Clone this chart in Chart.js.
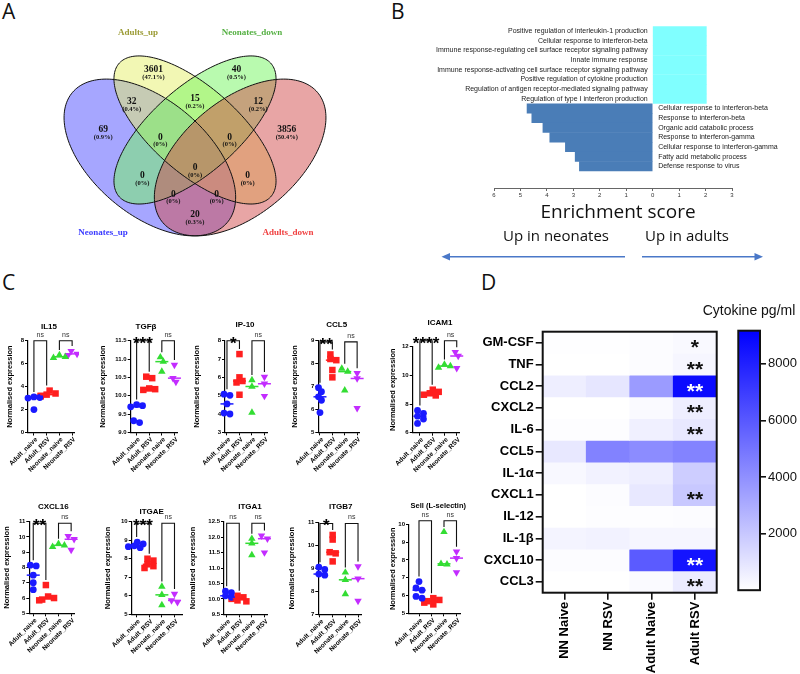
<!DOCTYPE html>
<html><head><meta charset="utf-8">
<script src="https://cdn.jsdelivr.net/npm/chart.js@4.4.1/dist/chart.umd.min.js"></script>
<style>
html,body{margin:0;padding:0;background:#fff;}
#root{position:relative;width:800px;height:674px;overflow:hidden;background:#fff;}
canvas{position:absolute;}
.pl{position:absolute;font-family:"Open Sans",sans-serif;font-size:21px;line-height:1;color:#111;}
</style></head><body><div id="root">
<div class="pl" style="left:2px;top:1px">A</div>
<div class="pl" style="left:391px;top:1px">B</div>
<div class="pl" style="left:2px;top:272px">C</div>
<div class="pl" style="left:481px;top:272px">D</div>
</div>
<script>
// ---------------- DATA ----------------
// Panel A: Venn
const vennSetNames = ['Neonates_up','Adults_up','Neonates_down','Adults_down'];
const vennCounts = [3601, 40, 32, 15, 12, 69, 3856, 0, 0, 0, 0, 0, 0, 0, 20];

// Panel B: enrichment
const goTerms = [
 'Positive regulation of interleukin-1 production',
 'Cellular response to interferon-beta',
 'Immune response-regulating cell surface receptor signaling pathway',
 'Innate immune response',
 'Immune response-activating cell surface receptor signaling pathway',
 'Positive regulation of cytokine production',
 'Regulation of antigen receptor-mediated signaling pathway',
 'Regulation of type I interferon production',
 'Cellular response to interferon-beta',
 'Response to interferon-beta',
 'Organic acid catabolic process',
 'Response to interferon-gamma',
 'Cellular response to interferon-gamma',
 'Fatty acid metabolic process',
 'Defense response to virus'];
const enrichScore = [2.03,2.03,2.03,2.03,2.03,2.03,2.03,2.03,-4.75,-4.57,-4.15,-3.89,-3.30,-2.93,-2.77];

// Panel C: expression
const cGroups = ['Adult_naive','Adult_RSV','Neonate_naive','Neonate_RSV'];
const IL15   = [[3.1,3.05,3.0,2.0],[3.65,3.4,3.3,3.2,3.15],[6.75,6.6,6.5],[7.1,6.85,6.75]];
const TGFB   = [[9.76,9.73,9.7,9.32,9.27],[10.52,10.48,10.2,10.18,10.16],[11.05,10.93,10.66],[10.84,10.48,10.38]];
const IP10   = [[5.08,5.02,4.55,4.05,4.0],[7.27,6.0,5.8,5.72,5.05],[5.85,5.5,4.08],[6.02,5.65,4.98]];
const CCL5e  = [[6.95,6.77,6.55,6.4,5.86],[8.4,8.2,8.15,7.72,7.4],[7.78,7.65,6.83],[7.58,7.35,6.05]];
const ICAM1  = [[7.55,7.35,7.15,6.95,6.65],[9.0,8.85,8.75,8.65,8.6],[10.75,10.65,10.55],[11.62,11.35,10.5]];
const CXCL16 = [[8.15,8.1,7.5,7.0,6.55],[6.85,6.1,6.0,5.9,5.85],[9.55,9.45,9.35],[10.05,9.85,9.15]];
const ITGAE  = [[8.9,8.8,8.7,8.65,8.6],[8.0,7.9,7.7,7.6,7.5],[6.5,6.05,5.5],[6.1,5.75,5.65]];
const ITGA1  = [[10.25,10.2,10.1,10.05,10.0],[10.1,10.05,10.0,9.95,9.92],[11.95,11.8,11.42],[12.05,11.95,11.5]];
const ITGB7  = [[9.05,8.95,8.75,8.7,8.68],[10.45,10.25,9.7,9.65,9.3],[8.82,8.5,7.88],[9.08,8.55,7.58]];
const SELL   = [[6.78,6.42,6.3,5.95,5.85],[5.85,5.75,5.68,5.6,5.5],[9.57,7.78,7.75],[8.46,8.1,7.3]];
const cSig = {IL15:['ns','ns'],TGFB:['***','ns'],IP10:['*','ns'],CCL5:['**','ns'],ICAM1:['****','ns'],
  CXCL16:['**','ns'],ITGAE:['***','ns'],ITGA1:['ns','ns'],ITGB7:['*','ns'],SELL:['ns','ns']};

// Panel D: cytokines (pg/ml)
const cytokines = ['GM-CSF','TNF','CCL2','CXCL2','IL-6','CCL5','IL-1α','CXCL1','IL-12','IL-1β','CXCL10','CCL3'];
const hmGroups = ['NN Naive','NN RSV','Adult Naive','Adult RSV'];
const hmNNNaive    = [20, 10, 610, 10, 70, 830, 250, 10, 10, 400, 110, 10];
const hmNNRSV      = [20, 10, 900, 10, 70, 4500, 470, 110, 70, 470, 110, 10];
const hmAdultNaive = [110, 110, 3600, 180, 540, 4150, 610, 830, 70, 320, 5900, 180];
const hmAdultRSV   = [220, 320, 8800, 610, 830, 4450, 1800, 1980, 110, 320, 8450, 720];
const hmStars      = ['*','**','**','**','**','','','**','','','**','**'];
const colorMax = 9170;
const colorTicks = [2000,4000,6000,8000];

// ---------------- SETUP ----------------
Chart.defaults.font.family = '"Liberation Sans", Arial, sans-serif';
Chart.defaults.color = '#000';
const root = document.getElementById('root');
function mkCanvas(l,t,w,h){const c=document.createElement('canvas');c.width=Math.round(w);c.height=Math.round(h);c.style.left=l+'px';c.style.top=t+'px';c.style.width=Math.round(w)+'px';c.style.height=Math.round(h)+'px';root.appendChild(c);return c;}
const baseOpts = {responsive:false, animation:false, events:[], devicePixelRatio:1};
const noPlug = {legend:{display:false}, tooltip:{enabled:false}, title:{display:false}};

// ---------------- PANEL A ----------------
(function(){
 const W=395,H=275, cx0=195, sx=301, sy=275, vTop=0.839, pyTop=56;
 const xmin=0.5-cx0/sx, xmax=0.5+(W-cx0)/sx, ymax=vTop+pyTop/sy, ymin=vTop-(H-pyTop)/sy;
 const vennPos=[[0.362,0.788],[0.638,0.788],[0.29,0.672],[0.5,0.683],[0.71,0.672],[0.195,0.57],[0.805,0.57],
   [0.385,0.544],[0.615,0.544],[0.5,0.432],[0.325,0.403],[0.675,0.403],[0.428,0.337],[0.572,0.337],[0.5,0.261]];
 const ell=[
  {cx:0.35,cy:0.47,a:0.35,b:0.2,r:-Math.PI/4,fill:'rgba(60,60,255,0.46)'},
  {cx:0.5,cy:0.57,a:0.35,b:0.15,r:-Math.PI/4,fill:'rgba(230,240,105,0.5)'},
  {cx:0.5,cy:0.57,a:0.35,b:0.15,r:Math.PI/4,fill:'rgba(115,245,95,0.5)'},
  {cx:0.65,cy:0.47,a:0.35,b:0.2,r:Math.PI/4,fill:'rgba(210,75,75,0.5)'}];
 const setLab=[{t:vennSetNames[0],u:0.194,v:0.195,c:'#3c3cff'},{t:vennSetNames[1],u:0.311,v:0.923,c:'#9b9b35'},
   {t:vennSetNames[2],u:0.689,v:0.923,c:'#55b043'},{t:vennSetNames[3],u:0.809,v:0.195,c:'#f04040'}];
 const total=vennCounts.reduce((a,b)=>a+b,0);
 function path(ctx,xs,ys,e){ctx.beginPath();for(let k=0;k<=180;k++){const t=k/180*2*Math.PI,ca=Math.cos(e.r),sa=Math.sin(e.r);
   const u=e.cx+e.a*Math.cos(t)*ca-e.b*Math.sin(t)*sa, v=e.cy+e.a*Math.cos(t)*sa+e.b*Math.sin(t)*ca;
   const px=xs.getPixelForValue(u),py=ys.getPixelForValue(v); k?ctx.lineTo(px,py):ctx.moveTo(px,py);}ctx.closePath();}
 const plug={id:'venn',afterDatasetsDraw(chart){const ctx=chart.ctx,xs=chart.scales.x,ys=chart.scales.y;ctx.save();
   ell.forEach(e=>{path(ctx,xs,ys,e);ctx.fillStyle=e.fill;ctx.fill();});
   ell.forEach(e=>{path(ctx,xs,ys,e);ctx.strokeStyle='#111';ctx.lineWidth=1;ctx.stroke();});
   ctx.textAlign='center';ctx.textBaseline='middle';ctx.fillStyle='#111';
   vennCounts.forEach((c,i)=>{const x=xs.getPixelForValue(vennPos[i][0]),y=ys.getPixelForValue(vennPos[i][1]);
     ctx.font='bold 9.5px "Liberation Serif", serif';ctx.fillText(String(c),x,y);
     ctx.font='bold 6.5px "Liberation Serif", serif';ctx.fillText(c===0?'(0%)':'('+(c/total*100).toFixed(1)+'%)',x,y+7);});
   setLab.forEach(s=>{ctx.font='bold 9px "Liberation Serif", serif';ctx.fillStyle=s.c;ctx.fillText(s.t,xs.getPixelForValue(s.u),ys.getPixelForValue(s.v));});
   ctx.restore();}};
 new Chart(mkCanvas(0,0,W,H),{type:'scatter',data:{datasets:[{data:vennPos.map(p=>({x:p[0],y:p[1]})),pointRadius:0}]},
  options:Object.assign({},baseOpts,{layout:{padding:0},plugins:noPlug,
   scales:{x:{display:false,min:xmin,max:xmax},y:{display:false,min:ymin,max:ymax}}}),plugins:[plug]});
})();

// ---------------- PANEL B ----------------
(function(){
 const L=400,T=0,W=400,H=270;
 const plug={id:'goLabels',afterDatasetsDraw(chart){const ctx=chart.ctx,xs=chart.scales.x,ys=chart.scales.y,x0=xs.getPixelForValue(0);
   ctx.save();ctx.font='7px "Liberation Sans", Arial';ctx.fillStyle='#222';ctx.textBaseline='middle';
   goTerms.forEach((t,i)=>{const y=ys.getPixelForValue(i);if(enrichScore[i]>0){ctx.textAlign='right';ctx.fillText(t,x0-5,y);}else{ctx.textAlign='left';ctx.fillText(t,x0+5.5,y);}});
   ctx.restore();},
  afterDraw(chart){const ctx=chart.ctx;ctx.save();ctx.fillStyle='#111';ctx.textAlign='center';ctx.textBaseline='middle';
   ctx.font='19px "Open Sans", sans-serif';ctx.fillText('Enrichment score',218,213);
   ctx.font='15px "Open Sans", sans-serif';ctx.fillText('Up in neonates',156,237);ctx.fillText('Up in adults',287,237);
   const ay=256.7;ctx.strokeStyle='#4a78c8';ctx.fillStyle='#4a78c8';ctx.lineWidth=1.6;
   ctx.beginPath();ctx.moveTo(225,ay);ctx.lineTo(49,ay);ctx.stroke();
   ctx.beginPath();ctx.moveTo(41.5,ay);ctx.lineTo(50,ay-3.8);ctx.lineTo(50,ay+3.8);ctx.closePath();ctx.fill();
   ctx.beginPath();ctx.moveTo(242,ay);ctx.lineTo(355,ay);ctx.stroke();
   ctx.beginPath();ctx.moveTo(363,ay);ctx.lineTo(354.5,ay-3.8);ctx.lineTo(354.5,ay+3.8);ctx.closePath();ctx.fill();
   ctx.restore();}};
 new Chart(mkCanvas(L,T,W,H),{type:'bar',
  data:{datasets:[{data:enrichScore.map((v,i)=>({x:v,y:i})),backgroundColor:enrichScore.map(v=>v>0?'#80ffff':'#4a7db7'),barThickness:9.4,borderWidth:0}]},
  options:Object.assign({},baseOpts,{indexAxis:'y',layout:{padding:{top:16.87,left:94,right:68,bottom:0}},plugins:noPlug,
   scales:{
    x:{type:'linear',min:-6,max:3,ticks:{stepSize:1,font:{size:6},color:'#333',padding:1,callback:v=>String(Math.abs(v))},
      grid:{drawOnChartArea:false,drawTicks:true,tickLength:3,color:'#666'},border:{display:true,color:'#666',width:1},
      afterFit:s=>{s.height=82;}},
    y:{type:'linear',min:-0.5,max:15.26,reverse:true,display:false}}}),plugins:[plug]});
})();

// ---------------- PANEL C ----------------
const cColors=['#1a1aff','#ff1f1f','#33dd33','#c32cff'];
const cStyles=['circle','rect','triangle','triangle'];
const cRadius=[3.4,4.6,4.3,4.3];
const cPlots=[
 {title:'IL15',data:IL15,sig:cSig.IL15,bar:8,ymin:0,ymax:8,step:2,dec:0,lx:10,ax:28,rx:75,c0:34,c3:72.7,top:340.7,bot:432.5,tx:49,ty:327,row:0},
 {title:'TGFβ',data:TGFB,sig:cSig.TGFB,bar:11.5,ymin:9,ymax:11.5,step:0.5,dec:1,lx:103,ax:130.7,rx:178,c0:136.7,c3:175,top:340.7,bot:432.5,tx:146,ty:327,row:0},
 {title:'IP-10',data:IP10,sig:cSig.IP10,bar:8,ymin:3,ymax:8,step:1,dec:0,lx:197,ax:225,rx:268,c0:227,c3:265,top:340.7,bot:432.3,tx:245,ty:325,row:0},
 {title:'CCL5',data:CCL5e,sig:cSig.CCL5,bar:8.95,ymin:5,ymax:9,step:1,dec:0,lx:295,ax:318.3,rx:360,c0:320,c3:357.7,top:340.7,bot:432.3,tx:336.7,ty:325,row:0},
 {title:'ICAM1',data:ICAM1,sig:cSig.ICAM1,bar:12.42,ymin:6,ymax:12,step:2,dec:0,lx:393,ax:412.7,rx:460,c0:420,c3:457.3,top:346.7,bot:432.7,tx:440,ty:323,row:0},
 {title:'CXCL16',data:CXCL16,sig:cSig.CXCL16,bar:10.9,ymin:5,ymax:11,step:1,dec:0,lx:7,ax:29.3,rx:75,c0:33.3,c3:71.7,top:521.7,bot:613.3,tx:53.3,ty:506.7,row:1},
 {title:'ITGAE',data:ITGAE,sig:cSig.ITGAE,bar:9.92,ymin:5,ymax:10,step:1,dec:0,lx:108,ax:131.7,rx:183,c0:136.7,c3:175,top:521.7,bot:614.3,tx:151.7,ty:511.7,row:1},
 {title:'ITGA1',data:ITGA1,sig:cSig.ITGA1,bar:12.45,ymin:9.5,ymax:12.5,step:0.5,dec:1,lx:193,ax:224,rx:268,c0:226.7,c3:265,top:521.7,bot:614.3,tx:250,ty:506.7,row:1},
 {title:'ITGB7',data:ITGB7,sig:cSig.ITGB7,bar:10.95,ymin:7,ymax:11,step:1,dec:0,lx:292,ax:318.3,rx:361.7,c0:320,c3:358.3,top:522.3,bot:614.3,tx:340.7,ty:506.7,row:1},
 {title:'Sell (L-selectin)',data:SELL,sig:cSig.SELL,bar:10.2,ymin:5,ymax:10,step:1,dec:0,lx:393,ax:409,rx:460,c0:419,c3:456.5,top:524.3,bot:613.3,tx:438.3,ty:505.7,row:1,tfs:7.5,extra:10}];
const rowBox=[{t:305,b:482},{t:488,b:674}];

function swarm(vals, ppu, d){ // deterministic beeswarm offsets (px)
 const idx=vals.map((v,i)=>i).sort((a,b)=>vals[b]-vals[a]);
 const placed=[];const off=new Array(vals.length).fill(0);const s=d*0.5;
 idx.forEach(i=>{const y=vals[i]*ppu;let best=0;
  for(let k=0;k<7;k++){const c=k===0?0:(k%2?1:-1)*Math.ceil(k/2)*s;best=c;
   if(!placed.some(p=>Math.hypot(c-p.x,y-p.y)<d*0.75)){break;}}
  placed.push({x:best,y:y});off[i]=best;});
 const comp=new Array(vals.length).fill(-1);let nc=0;
 idx.forEach((i,k)=>{if(k>0 && Math.abs(vals[idx[k-1]]-vals[i])*ppu<d){comp[i]=comp[idx[k-1]];}else{comp[i]=nc++;}});
 for(let c=0;c<nc;c++){const m=off.filter((o,i)=>comp[i]===c);const mean=m.reduce((a,b)=>a+b,0)/m.length;off.forEach((o,i)=>{if(comp[i]===c)off[i]=o-mean;});}
 return off;
}

cPlots.forEach(p=>{
 const rb=rowBox[p.row];const ex=p.extra||0;const L=p.lx-5,T=rb.t,W=p.rx+4+ex-L,H=rb.b-T;
 const stepPx=(p.c3-p.c0)/3, ppu=(p.bot-p.top)/(p.ymax-p.ymin);
 const xmin=-(p.c0-p.ax)/stepPx, xmax=3+(p.rx-p.c3)/stepPx;
 const datasets=p.data.map((vals,gi)=>{const off=swarm(vals,ppu,6);
  return {data:vals.map((v,i)=>({x:gi+off[i]/stepPx,y:v})),pointStyle:cStyles[gi],rotation:gi===3?180:0,
   backgroundColor:cColors[gi],borderColor:cColors[gi],borderWidth:0,pointRadius:cRadius[gi],clip:false};});
 const plug={id:'cdeco',afterDatasetsDraw(chart){const ctx=chart.ctx,xs=chart.scales.x,ys=chart.scales.y,ca=chart.chartArea;ctx.save();
   p.data.forEach((vals,gi)=>{const s=[...vals].sort((a,b)=>a-b),n=s.length,med=n%2?s[(n-1)/2]:(s[n/2-1]+s[n/2])/2;
     const x=xs.getPixelForValue(gi),y=ys.getPixelForValue(med);ctx.strokeStyle=cColors[gi];ctx.lineWidth=1.5;
     ctx.beginPath();ctx.moveTo(x-6.5,y);ctx.lineTo(x+6.5,y);ctx.stroke();});
   [[0,1],[2,3]].forEach((pr,bi)=>{const yb=ys.getPixelForValue(p.bar),x1=xs.getPixelForValue(pr[0]),x2=xs.getPixelForValue(pr[1]);
     const l1=Math.max(yb+2,ys.getPixelForValue(Math.max(...p.data[pr[0]]))-5),l2=Math.max(yb+2,ys.getPixelForValue(Math.max(...p.data[pr[1]]))-5);
     ctx.strokeStyle='#111';ctx.lineWidth=1.1;ctx.beginPath();ctx.moveTo(x1,l1);ctx.lineTo(x1,yb);ctx.lineTo(x2,yb);ctx.lineTo(x2,l2);ctx.stroke();
     const s=p.sig[bi];ctx.textAlign='center';ctx.textBaseline='alphabetic';
     if(s==='ns'){ctx.font='7px "Liberation Sans", Arial';ctx.fillStyle='#333';ctx.fillText(s,(x1+x2)/2,yb-4);}
     else{ctx.font='bold 17px "Liberation Sans", Arial';ctx.fillStyle='#000';ctx.fillText(s,(x1+x2)/2,yb+8);}});
   ctx.fillStyle='#000';ctx.textAlign='center';ctx.textBaseline='middle';ctx.font='bold '+(p.tfs||8)+'px "Liberation Sans", Arial';
   ctx.fillText(p.title,p.tx-L,p.ty-T);
   ctx.font='bold 6.5px "Liberation Sans", Arial';
   cGroups.forEach((g,gi)=>{const x=xs.getPixelForValue(gi);ctx.save();ctx.translate(x+2.5,ca.bottom+6);ctx.rotate(-Math.PI/4);
     ctx.textAlign='right';ctx.textBaseline='middle';ctx.fillText(g,0,0);ctx.restore();});
   ctx.restore();}};
 new Chart(mkCanvas(L,T,W,H),{type:'scatter',data:{datasets:datasets},
  options:Object.assign({},baseOpts,{layout:{padding:{top:p.top-T,right:4+ex,left:0,bottom:0}},plugins:noPlug,
   scales:{
    x:{type:'linear',min:xmin,max:xmax,afterBuildTicks:s=>{s.ticks=[0,1,2,3].map(v=>({value:v}));},ticks:{display:false},
      grid:{drawOnChartArea:false,drawTicks:true,tickLength:3,color:'#000',lineWidth:1},border:{display:true,color:'#000',width:1.2},
      afterFit:s=>{s.height=H-(p.bot-T);}},
    y:{type:'linear',min:p.ymin,max:p.ymax,ticks:{stepSize:p.step,font:{size:6,weight:'bold'},color:'#000',padding:1,callback:v=>Number(v).toFixed(p.dec)},
      grid:{drawOnChartArea:false,drawTicks:true,tickLength:3,color:'#000',lineWidth:1},border:{display:true,color:'#000',width:1.2},
      title:{display:true,text:'Normalised expression',font:{size:7.5,weight:'bold'},color:'#000',padding:0},
      afterFit:s=>{s.width=p.ax-L;}}}}),plugins:[plug]});
});

// ---------------- PANEL D ----------------
function colorAt(v){const t=Math.max(0,Math.min(1,v/colorMax));const c=Math.round(255*(1-t));return 'rgb('+c+','+c+',255)';}
(function(){
 const L=470,T=300,W=270,H=374;
 const cols=[hmNNNaive,hmNNRSV,hmAdultNaive,hmAdultRSV];
 const datasets=cytokines.map((c,r)=>({data:hmGroups.map(()=>[r,r+1]),backgroundColor:cols.map(col=>colorAt(col[r])),
   borderWidth:0,grouped:false,barPercentage:1,categoryPercentage:1}));
 const plug={id:'hm',afterDatasetsDraw(chart){const ctx=chart.ctx,xs=chart.scales.x,ys=chart.scales.y,ca=chart.chartArea;ctx.save();
   ctx.textAlign='center';ctx.textBaseline='alphabetic';ctx.font='bold 21px "Liberation Sans", Arial';
   hmStars.forEach((s,r)=>{if(!s)return;const x=xs.getPixelForValue(3),y=ys.getPixelForValue(r+0.5);
     ctx.fillStyle=hmAdultRSV[r]>5000?'#fff':'#111';ctx.fillText(s,x,y+11.5);});
   ctx.strokeStyle='#111';ctx.lineWidth=2;ctx.strokeRect(ca.left,ca.top,ca.right-ca.left,ca.bottom-ca.top);ctx.restore();}};
 new Chart(mkCanvas(L,T,W,H),{type:'bar',data:{labels:hmGroups,datasets:datasets},
  options:Object.assign({},baseOpts,{layout:{padding:{top:31.7,right:W-246.7,left:0,bottom:0}},plugins:noPlug,
   scales:{
    x:{type:'category',offset:true,ticks:{autoSkip:false,minRotation:90,maxRotation:90,font:{size:13,weight:'bold'},color:'#000',padding:2},
      grid:{offset:false,drawOnChartArea:false,drawTicks:true,tickLength:7,color:'#111',lineWidth:1.6},border:{display:false},
      afterFit:s=>{s.height=H-292.7;}},
    y:{type:'linear',min:0,max:12,reverse:true,afterBuildTicks:s=>{s.ticks=cytokines.map((c,i)=>({value:i+0.5}));},
      ticks:{autoSkip:false,font:{size:13,weight:'bold'},color:'#000',padding:2,callback:(v,i)=>cytokines[i]},
      grid:{drawOnChartArea:false,drawTicks:true,tickLength:7,color:'#111',lineWidth:1.6},border:{display:false},
      afterFit:s=>{s.width=72.7;}}}}),plugins:[plug]});
})();
(function(){
 const L=700,T=300,W=100,H=300;
 const plug={id:'cbar',afterDraw(chart){const ctx=chart.ctx,ca=chart.chartArea;ctx.save();
   ctx.strokeStyle='#111';ctx.lineWidth=2;ctx.strokeRect(ca.left,ca.top,ca.right-ca.left,ca.bottom-ca.top);
   ctx.fillStyle='#111';ctx.font='14px "Liberation Sans", Arial';ctx.textAlign='center';ctx.textBaseline='middle';
   ctx.fillText('Cytokine pg/ml',49,10.7);ctx.restore();}};
 new Chart(mkCanvas(L,T,W,H),{type:'bar',data:{labels:['scale'],datasets:[{data:[[0,colorMax]],barPercentage:1,categoryPercentage:1,borderWidth:0,
   backgroundColor:(c)=>{const ch=c.chart,ca=ch.chartArea;if(!ca)return colorAt(colorMax/2);const g=ch.ctx.createLinearGradient(0,ca.bottom,0,ca.top);
     g.addColorStop(0,colorAt(0));g.addColorStop(1,colorAt(colorMax));return g;}}]},
  options:Object.assign({},baseOpts,{layout:{padding:{top:30.7,left:38.3,right:0,bottom:8.3}},plugins:noPlug,
   scales:{x:{display:false},
    y:{position:'right',min:0,max:colorMax,afterBuildTicks:s=>{s.ticks=colorTicks.map(v=>({value:v}));},
      ticks:{font:{size:13},color:'#111',padding:2,callback:v=>String(v)},grid:{drawOnChartArea:false,drawTicks:true,tickLength:6,color:'#111',lineWidth:1.6},
      border:{display:false},afterFit:s=>{s.width=40;}}}}),plugins:[plug]});
})();
</script></body></html>
